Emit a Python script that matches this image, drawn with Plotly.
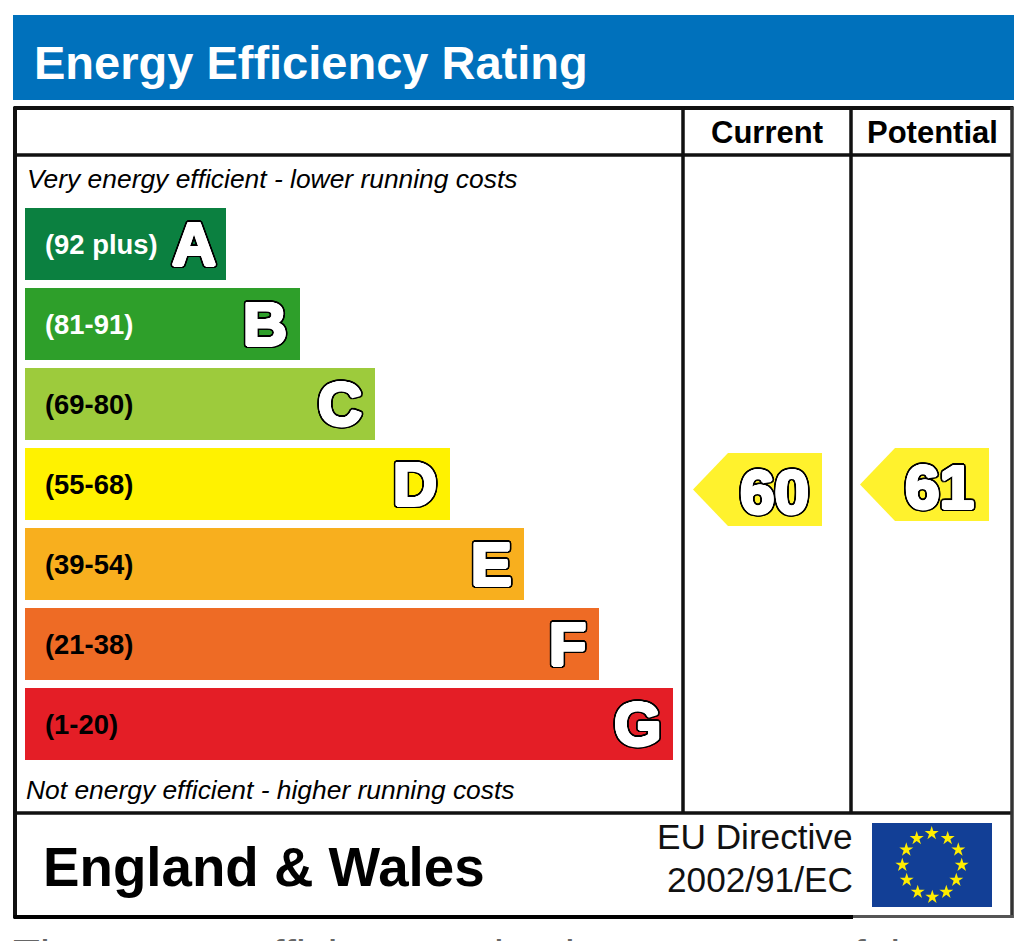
import math
import plotly.graph_objects as go

bands = ["(92 plus)", "(81-91)", "(69-80)", "(55-68)", "(39-54)", "(21-38)", "(1-20)"]
letters = ["A", "B", "C", "D", "E", "F", "G"]
bar_lengths = [201, 275, 350, 425, 499, 574, 648]
bar_colors = ["#0B8040", "#2E9F2A", "#9DCB3C", "#FFF200", "#F8AF1E", "#EE6B25", "#E41E26"]
band_text_colors = ["white", "white", "black", "black", "black", "black", "black"]
current_value = "60"
potential_value = "61"
title = "Energy Efficiency Rating"
columns = ["Current", "Potential"]
top_note = "Very energy efficient - lower running costs"
bottom_note = "Not energy efficient - higher running costs"
region = "England & Wales"
directive = ["EU Directive", "2002/91/EC"]
clipped_line = "The energy efficiency rating is a measure of the"
star_x = [931.7, 947.7, 958.3, 961.7, 956.3, 946.3, 932.3, 917.7, 906.7, 902.3, 906.3, 916.7]
star_y = [833.3, 838.3, 849.7, 865, 880, 892, 897, 892, 880, 865, 849.7, 838.3]

FONT = "Liberation Sans, Arial, sans-serif"
bar_y = [244, 324, 404, 484, 564, 644, 724]


def ring(r, color, n=20):
    return [f"{r * math.cos(2 * math.pi * i / n):.2f}px {r * math.sin(2 * math.pi * i / n):.2f}px 0 {color}"
            for i in range(n)]


OUTLINE = ", ".join(ring(0.8, "#fff", 8) + ring(1.5, "#fff", 12) + ring(2.3, "#000", 16) + ring(3.2, "#000", 24))

fig = go.Figure()
fig.add_trace(go.Bar(
    y=bar_y, x=bar_lengths, base=25, orientation="h", width=72,
    marker=dict(color=bar_colors, line=dict(width=0)),
    hoverinfo="skip", showlegend=False,
))
fig.add_trace(go.Scatter(
    x=star_x, y=star_y, mode="markers",
    marker=dict(symbol="star", size=10.5, color="#FFED00", line=dict(width=0)),
    hoverinfo="skip", showlegend=False,
))

shapes = []


def rect(x0, y0, x1, y1, color):
    shapes.append(dict(type="rect", x0=x0, y0=y0, x1=x1, y1=y1, layer="below",
                       fillcolor=color, line=dict(width=0)))


def line(x0, y0, x1, y1, w=3.5, color="#111111"):
    shapes.append(dict(type="line", x0=x0, y0=y0, x1=x1, y1=y1, layer="above",
                       line=dict(color=color, width=w)))


rect(13, 15, 1014, 100, "#0071BC")
rect(872, 823, 992, 907, "#123F96")
line(13.5, 108, 1013.5, 108, w=4)
line(15, 155, 1013, 155)
line(15, 813, 1013, 813)
line(15, 107, 15, 918, w=4)
line(1012, 107, 1012, 918, color="#333333")
line(683, 107, 683, 813)
line(851, 107, 851, 813)
line(13.5, 917, 853, 917, w=4, color="#000000")
line(853, 916.5, 1013.5, 916.5, w=3, color="#555555")

for x0, x1, ytop, ybot in [(693, 822, 453, 526), (860, 989, 448, 521)]:
    mid = (ytop + ybot) / 2
    shapes.append(dict(
        type="path", layer="below", fillcolor="#FFF22D", line=dict(width=0),
        path=f"M {x0} {mid} L {x0 + 35} {ytop} L {x1} {ytop} L {x1} {ybot} L {x0 + 35} {ybot} Z",
    ))

ann = []


def text(x, y, s, size, anchor="left", color="#000", bold=False, italic=False, shadow=None, yanchor="middle"):
    f = dict(family=FONT, size=size, color=color,
             weight="bold" if bold else "normal",
             style="italic" if italic else "normal")
    if shadow:
        f["shadow"] = shadow
    ann.append(dict(x=x, y=y, text=s, xref="x", yref="y", xanchor=anchor, yanchor=yanchor,
                    showarrow=False, font=f, borderpad=0, borderwidth=0))


text(34, 62, title, 47, color="white", bold=True)
text(767, 132, columns[0], 31, anchor="center", bold=True)
text(932, 132, columns[1], 31, anchor="center", bold=True)
text(27, 179, top_note, 26.4, italic=True)
text(26, 790, bottom_note, 26.4, italic=True)
text(43, 867, region, 54.7, bold=True)
text(853, 836.5, directive[0], 35.2, anchor="right", color="#111")
text(853, 879.5, directive[1], 35.2, anchor="right", color="#111")
text(13, 931, clipped_line, 44, color="#666", yanchor="top")

letter_right = [216, 287, 362, 437, 512, 586, 661]
for by, b, col, let, lr in zip(bar_y, bands, band_text_colors, letters, letter_right):
    text(45, by, b, 27.4, color=col, bold=True)
    text(lr, by, let, 61, anchor="right", color="white", bold=True, shadow=OUTLINE)

text(774, 491, current_value, 62, anchor="center", color="white", bold=True, shadow=OUTLINE)
text(939, 486, potential_value, 62, anchor="center", color="white", bold=True, shadow=OUTLINE)

# The page body adds an 8 px offset, so the axes start at 8 to keep reference pixel units.
fig.update_layout(
    width=1028, height=933, autosize=False,
    margin=dict(l=0, r=0, t=0, b=0),
    paper_bgcolor="white", plot_bgcolor="white",
    xaxis=dict(range=[8, 1036], visible=False, fixedrange=True),
    yaxis=dict(range=[941, 8], visible=False, fixedrange=True),
    shapes=shapes, annotations=ann, showlegend=False,
)
fig.write_html("out.html", config=dict(displayModeBar=False))
